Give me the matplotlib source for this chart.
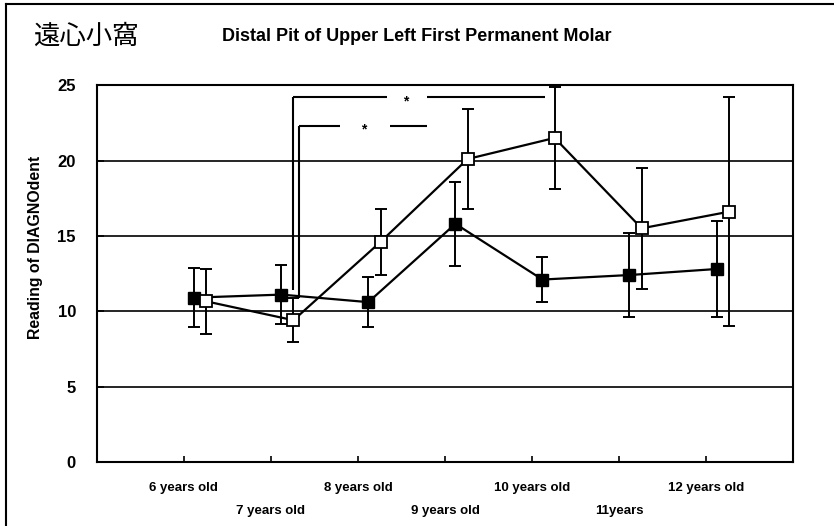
import matplotlib
matplotlib.use("Agg")
import matplotlib.pyplot as plt
from matplotlib.lines import Line2D
import numpy as np

plt.rcParams['font.family'] = ['Liberation Sans', 'Noto Sans CJK JP', 'DejaVu Sans']

# ---- data ----
ages = ["6 years old", "7 years old", "8 years old", "9 years old",
        "10 years old", "11years", "12 years old"]
filled_mean = [10.9, 11.1, 10.6, 15.8, 12.1, 12.4, 12.8]
filled_err = [1.95, 1.95, 1.65, 2.8, 1.5, 2.8, 3.2]
open_mean = [10.65, 9.4, 14.6, 20.1, 21.5, 15.5, 16.6]
open_err = [2.15, 1.45, 2.2, 3.3, 3.4, 4.0, 7.6]

yticks = [0, 5, 10, 15, 20, 25]

# significance brackets (x in category units, y in reading units)
sig_top = [24.2, 22.3]
sig_bottom = [11.4, 10.9]
sig_left = [1.256, 1.325]
sig_gap = [(2.335, 2.795), (1.795, 2.37)]
sig_right = [4.15, 2.795]
sig_star = [2.553, 2.07]

fig = plt.figure(figsize=(8.34, 5.26), dpi=100)
ax = fig.add_axes([0.116, 0.122, 0.835, 0.716])

x = np.arange(len(ages))
off_f, off_o = 0.12, 0.26

for yv in yticks[1:-1]:
    ax.axhline(yv, color='black', lw=1.2, zorder=1)

eb1 = ax.errorbar(x + off_f, filled_mean, yerr=filled_err, fmt='none', ecolor='black',
                  elinewidth=1.4, capsize=4.5, capthick=1.4, zorder=2)
eb2 = ax.errorbar(x + off_o, open_mean, yerr=open_err, fmt='none', ecolor='black',
                  elinewidth=1.4, capsize=4.5, capthick=1.4, zorder=2)
for eb in (eb1, eb2):
    for art in eb.lines[1] + eb.lines[2]:
        art.set_clip_on(False)
ax.plot(x + off_f, filled_mean, '-', color='black', lw=1.6, marker='s',
        markersize=9, markerfacecolor='black', markeredgecolor='black', zorder=3)
ax.plot(x + off_o, open_mean, '-', color='black', lw=1.6, marker='s',
        markersize=9, markerfacecolor='white', markeredgecolor='black',
        markeredgewidth=1.3, zorder=4)

for top, bot, l, (g1, g2), r, s in zip(sig_top, sig_bottom, sig_left, sig_gap, sig_right, sig_star):
    ax.plot([l, l], [bot, top], color='black', lw=1.5, zorder=2, solid_capstyle='butt')
    ax.plot([l, g1], [top, top], color='black', lw=1.5, zorder=2, solid_capstyle='butt')
    ax.plot([g2, r], [top, top], color='black', lw=1.5, zorder=2, solid_capstyle='butt')
    ax.text(s, top - 0.25, '*', ha='center', va='center', fontsize=10,
            fontweight='bold', zorder=5)

ax.set_xlim(-1, 7)
ax.set_ylim(0, 25)
ax.set_yticks(yticks)
ax.set_yticklabels([str(v) for v in yticks], fontsize=12, fontweight='bold')
ax.tick_params(axis='y', direction='in', length=5, width=1.2, pad=15)
ax.set_xticks(x)
ax.set_xticklabels([])
ax.tick_params(axis='x', direction='in', length=4, width=1.2)
for sp in ax.spines.values():
    sp.set_linewidth(1.5)

for i, lab in enumerate(ages):
    ypos = -0.07 if i % 2 == 0 else -0.13
    ax.text(i, ypos, lab, transform=ax.get_xaxis_transform(), ha='center', va='center',
            fontsize=9.5, fontweight='bold')

fig.text(0.043, 0.530, 'Reading of DIAGNOdent', rotation=90, ha='center', va='center',
         fontsize=11.4, fontweight='bold')

fig.text(0.040, 0.931, '遠心小窩', ha='left', va='center', fontsize=19,
         family=['Noto Sans CJK JP', 'DejaVu Sans'])
fig.text(0.266, 0.930, 'Distal Pit of Upper Left First Permanent Molar', ha='left',
         va='center', fontsize=13, fontweight='bold')

fig.add_artist(Line2D([0.007, 0.007], [0.0, 0.993], color='black', lw=1.5,
                      transform=fig.transFigure))
fig.add_artist(Line2D([0.007, 1.0], [0.993, 0.993], color='black', lw=1.5,
                      transform=fig.transFigure))

fig.savefig('out.png', dpi=100)
